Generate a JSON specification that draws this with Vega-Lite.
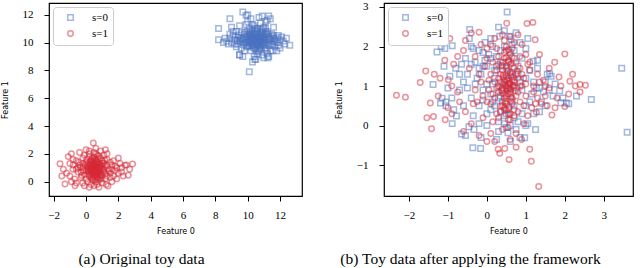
{
  "$schema": "https://vega.github.io/schema/vega-lite/v6.json",
  "autosize": {"type": "pad"},
  "padding": 0,
  "bounds": "flush",
  "spacing": 82,
  "background": "white",
  "config": {
    "view": {"stroke": "black", "strokeWidth": 1.2},
    "axis": {"domain": false, "grid": false, "tickColor": "black", "tickSize": 5, "tickWidth": 1, "labelFont": "Liberation Serif", "labelFontSize": 11, "labelColor": "black", "labelFlush": false, "labelOverlap": false, "titleFont": "DejaVu Sans", "titleFontSize": 8, "titleFontWeight": "normal", "titleColor": "black"},
    "axisX": {"labelPadding": 8, "titlePadding": 7},
    "axisY": {"labelPadding": 11, "titlePadding": 13},
    "legend": {"orient": "top-left", "offset": 4, "title": null, "strokeColor": "#cccccc", "strokeWidth": 1, "cornerRadius": 3, "fillColor": "white", "padding": 5, "labelFont": "Liberation Serif", "labelFontSize": 11, "labelColor": "black", "symbolSize": 30, "symbolStrokeWidth": 1.5, "symbolOpacity": 0.5, "rowPadding": 3, "symbolOffset": 7, "labelOffset": 16},
    "title": {"font": "Liberation Serif", "fontSize": 15.5, "fontWeight": "normal", "color": "black", "orient": "bottom", "anchor": "middle", "frame": "group", "offset": 17}
  },
  "resolve": {"scale": {"x": "independent", "y": "independent"}, "legend": {"color": "independent", "shape": "independent"}},
  "datasets": {
    "a": [
      {"s":0,"x":10.5,"y":10.1},{"s":0,"x":10.7,"y":10.3},{"s":0,"x":10.3,"y":9.9},{"s":0,"x":10.9,"y":10.0},{"s":0,"x":10.1,"y":10.2},{"s":0,"x":11.0,"y":10.4},{"s":0,"x":10.6,"y":9.7},{"s":0,"x":10.2,"y":10.5},{"s":0,"x":10.8,"y":9.8},{"s":0,"x":11.2,"y":10.2},
      {"s":0,"x":9.9,"y":10.0},{"s":0,"x":10.4,"y":10.6},{"s":0,"x":10.6,"y":10.8},{"s":0,"x":11.4,"y":10.1},{"s":0,"x":9.7,"y":10.3},{"s":0,"x":10.0,"y":9.7},{"s":0,"x":11.1,"y":9.6},{"s":0,"x":10.5,"y":9.5},{"s":0,"x":9.5,"y":10.1},{"s":0,"x":10.3,"y":10.9},
      {"s":0,"x":11.6,"y":10.3},{"s":0,"x":10.9,"y":10.7},{"s":0,"x":9.8,"y":10.6},{"s":0,"x":10.7,"y":9.4},{"s":0,"x":11.3,"y":9.8},{"s":0,"x":9.4,"y":9.9},{"s":0,"x":10.2,"y":9.4},{"s":0,"x":11.8,"y":10.0},{"s":0,"x":10.4,"y":11.2},{"s":0,"x":11.0,"y":11.1},
      {"s":0,"x":9.6,"y":10.7},{"s":0,"x":9.2,"y":10.2},{"s":0,"x":10.8,"y":11.4},{"s":0,"x":11.5,"y":10.6},{"s":0,"x":9.3,"y":9.7},{"s":0,"x":10.1,"y":11.0},{"s":0,"x":11.9,"y":10.5},{"s":0,"x":10.6,"y":9.2},{"s":0,"x":11.7,"y":9.7},{"s":0,"x":9.0,"y":10.0},
      {"s":0,"x":12.0,"y":10.2},{"s":0,"x":10.0,"y":11.5},{"s":0,"x":11.2,"y":11.6},{"s":0,"x":9.1,"y":10.5},{"s":0,"x":11.4,"y":9.4},{"s":0,"x":10.9,"y":9.1},{"s":0,"x":9.8,"y":9.4},{"s":0,"x":12.2,"y":10.1},{"s":0,"x":12.3,"y":9.9},{"s":0,"x":8.8,"y":9.9},
      {"s":0,"x":8.7,"y":10.1},{"s":0,"x":8.6,"y":10.3},{"s":0,"x":8.9,"y":10.6},{"s":0,"x":9.5,"y":11.2},{"s":0,"x":9.9,"y":11.3},{"s":0,"x":10.7,"y":11.8},{"s":0,"x":11.3,"y":11.9},{"s":0,"x":11.1,"y":11.5},{"s":0,"x":11.6,"y":11.1},{"s":0,"x":10.2,"y":11.7},
      {"s":0,"x":9.7,"y":12.2},{"s":0,"x":10.0,"y":12.0},{"s":0,"x":8.9,"y":11.7},{"s":0,"x":8.2,"y":11.0},{"s":0,"x":10.1,"y":7.9},{"s":0,"x":10.5,"y":8.8},{"s":0,"x":10.3,"y":8.6},{"s":0,"x":9.7,"y":9.0},{"s":0,"x":9.5,"y":9.1},{"s":0,"x":11.0,"y":8.9},
      {"s":0,"x":11.3,"y":9.0},{"s":0,"x":8.2,"y":10.2},{"s":0,"x":12.6,"y":9.8},{"s":0,"x":11.2,"y":9.2},{"s":0,"x":10.4,"y":9.0},{"s":0,"x":11.8,"y":9.4},{"s":0,"x":12.0,"y":9.6},{"s":0,"x":9.3,"y":10.8},{"s":0,"x":9.0,"y":11.1},{"s":0,"x":8.5,"y":10.0},
      {"s":0,"x":10.6,"y":10.2},{"s":0,"x":10.4,"y":10.3},{"s":0,"x":10.8,"y":10.1},{"s":0,"x":10.2,"y":10.0},{"s":0,"x":10.6,"y":10.0},{"s":0,"x":10.9,"y":10.4},{"s":0,"x":10.3,"y":10.2},{"s":0,"x":11.1,"y":10.0},{"s":0,"x":10.0,"y":10.3},{"s":0,"x":10.5,"y":10.4},
      {"s":0,"x":10.7,"y":9.9},{"s":0,"x":10.4,"y":9.8},{"s":0,"x":11.0,"y":9.9},{"s":0,"x":10.1,"y":9.8},{"s":0,"x":10.8,"y":10.5},{"s":0,"x":9.8,"y":10.2},{"s":0,"x":11.3,"y":10.4},{"s":0,"x":10.5,"y":10.7},{"s":0,"x":11.5,"y":9.9},{"s":0,"x":9.6,"y":9.6},
      {"s":0,"x":11.2,"y":10.8},{"s":0,"x":10.6,"y":11.0},{"s":0,"x":9.4,"y":10.4},{"s":0,"x":11.7,"y":10.2},{"s":0,"x":10.0,"y":10.8},{"s":0,"x":12.4,"y":10.3},{"s":0,"x":11.9,"y":9.8},{"s":0,"x":10.9,"y":11.9},{"s":0,"x":11.4,"y":11.7},{"s":0,"x":9.9,"y":11.95},
      {"s":0,"x":11.1,"y":11.0},{"s":0,"x":9.5,"y":9.12},{"s":0,"x":10.45,"y":8.77},{"s":0,"x":11.25,"y":8.9},{"s":0,"x":11.56,"y":9.4},
      {"s":0,"x":10.45,"y":10.15},{"s":0,"x":10.65,"y":10.05},{"s":0,"x":10.35,"y":10.35},{"s":0,"x":10.75,"y":10.25},{"s":0,"x":10.15,"y":9.95},{"s":0,"x":10.95,"y":10.15},{"s":0,"x":10.55,"y":9.85},{"s":0,"x":10.25,"y":10.65},{"s":0,"x":10.85,"y":9.65},{"s":0,"x":11.05,"y":10.25},
      {"s":0,"x":9.95,"y":10.45},{"s":0,"x":10.45,"y":10.85},{"s":0,"x":10.65,"y":10.55},{"s":0,"x":11.25,"y":9.95},{"s":0,"x":9.75,"y":9.85},{"s":0,"x":10.05,"y":10.05},{"s":0,"x":11.15,"y":10.55},{"s":0,"x":10.35,"y":9.65},{"s":0,"x":9.65,"y":10.05},{"s":0,"x":10.55,"y":10.95},
      {"s":0,"x":11.45,"y":10.45},{"s":0,"x":10.85,"y":10.85},{"s":0,"x":9.85,"y":10.75},{"s":0,"x":10.75,"y":9.55},{"s":0,"x":11.35,"y":10.25},{"s":0,"x":9.55,"y":10.35},{"s":0,"x":10.25,"y":9.75},{"s":0,"x":11.65,"y":10.05},{"s":0,"x":10.45,"y":11.05},{"s":0,"x":10.95,"y":10.95},
      {"s":0,"x":9.45,"y":10.55},{"s":0,"x":9.85,"y":9.95},{"s":0,"x":10.15,"y":10.75},{"s":0,"x":11.55,"y":9.85},{"s":0,"x":10.65,"y":9.35},{"s":0,"x":11.05,"y":9.75},{"s":0,"x":10.35,"y":10.05},{"s":0,"x":10.55,"y":10.25},{"s":0,"x":10.75,"y":10.65},{"s":0,"x":10.95,"y":9.85},
      {"s":0,"x":10.15,"y":10.45},{"s":0,"x":11.25,"y":10.65},{"s":0,"x":9.95,"y":9.75},{"s":0,"x":10.45,"y":9.55},{"s":0,"x":10.85,"y":10.35},{"s":0,"x":10.25,"y":10.25},{"s":0,"x":11.15,"y":9.45},{"s":0,"x":9.35,"y":10.15},{"s":0,"x":11.85,"y":10.35},{"s":0,"x":10.05,"y":10.55},
      {"s":0,"x":10.6,"y":10.4},{"s":0,"x":10.4,"y":10.0},{"s":0,"x":10.8,"y":10.3},{"s":0,"x":10.2,"y":10.3},{"s":0,"x":11.0,"y":10.6},{"s":0,"x":10.7,"y":10.1},{"s":0,"x":10.3,"y":10.4},{"s":0,"x":10.9,"y":10.2},{"s":0,"x":10.5,"y":10.2},{"s":0,"x":10.6,"y":9.9},
      {"s":0,"x":9.6,"y":10.2},{"s":0,"x":11.4,"y":10.3},{"s":0,"x":10.1,"y":10.6},{"s":0,"x":11.1,"y":10.8},{"s":0,"x":10.3,"y":11.3},{"s":0,"x":9.2,"y":9.9},{"s":0,"x":11.6,"y":10.5},{"s":0,"x":12.1,"y":10.4},{"s":0,"x":8.9,"y":10.3},{"s":0,"x":9.1,"y":10.8},
      {"s":1,"x":0.5,"y":0.9},{"s":1,"x":0.3,"y":1.0},{"s":1,"x":0.7,"y":0.8},{"s":1,"x":0.4,"y":1.2},{"s":1,"x":0.6,"y":0.6},{"s":1,"x":0.2,"y":0.7},{"s":1,"x":0.9,"y":1.0},{"s":1,"x":0.1,"y":1.1},{"s":1,"x":0.8,"y":1.3},{"s":1,"x":0.5,"y":0.4},
      {"s":1,"x":0.0,"y":0.8},{"s":1,"x":1.1,"y":0.7},{"s":1,"x":0.3,"y":1.5},{"s":1,"x":0.6,"y":1.6},{"s":1,"x":0.9,"y":0.5},{"s":1,"x":-0.2,"y":1.0},{"s":1,"x":1.2,"y":1.1},{"s":1,"x":0.4,"y":0.2},{"s":1,"x":0.7,"y":1.9},{"s":1,"x":-0.1,"y":0.5},
      {"s":1,"x":1.4,"y":0.9},{"s":1,"x":0.2,"y":1.8},{"s":1,"x":1.0,"y":1.5},{"s":1,"x":-0.4,"y":1.2},{"s":1,"x":0.8,"y":0.1},{"s":1,"x":1.3,"y":0.4},{"s":1,"x":-0.3,"y":0.3},{"s":1,"x":1.6,"y":1.2},{"s":1,"x":0.5,"y":2.1},{"s":1,"x":-0.5,"y":0.7},
      {"s":1,"x":1.5,"y":0.6},{"s":1,"x":0.1,"y":0.0},{"s":1,"x":0.9,"y":2.2},{"s":1,"x":-0.6,"y":1.5},{"s":1,"x":1.8,"y":0.8},{"s":1,"x":-0.8,"y":0.9},{"s":1,"x":0.6,"y":2.4},{"s":1,"x":1.1,"y":1.9},{"s":1,"x":-0.2,"y":1.7},{"s":1,"x":2.0,"y":0.6},
      {"s":1,"x":-1.0,"y":1.3},{"s":1,"x":0.3,"y":-0.2},{"s":1,"x":1.0,"y":-0.1},{"s":1,"x":-0.7,"y":0.2},{"s":1,"x":1.7,"y":1.5},{"s":1,"x":0.45,"y":2.78},{"s":1,"x":2.2,"y":1.0},{"s":1,"x":-1.3,"y":-0.17},{"s":1,"x":-0.68,"y":-0.29},{"s":1,"x":1.36,"y":-0.31},
      {"s":1,"x":2.88,"y":1.27},{"s":1,"x":-1.61,"y":1.29},{"s":1,"x":2.61,"y":0.46},{"s":1,"x":2.41,"y":1.18},{"s":1,"x":2.0,"y":1.7},{"s":1,"x":-1.2,"y":0.6},{"s":1,"x":-0.9,"y":2.0},{"s":1,"x":0.0,"y":2.3},{"s":1,"x":0.8,"y":-0.4},{"s":1,"x":0.2,"y":-0.4},
      {"s":1,"x":1.2,"y":2.3},{"s":1,"x":-0.4,"y":2.1},{"s":1,"x":-1.1,"y":1.8},{"s":1,"x":1.9,"y":0.2},{"s":1,"x":-1.4,"y":0.9},{"s":1,"x":1.6,"y":0.0},{"s":1,"x":2.3,"y":0.4},{"s":1,"x":-0.9,"y":0.0},{"s":1,"x":0.6,"y":0.0},{"s":1,"x":1.3,"y":1.6},
      {"s":1,"x":0.0,"y":1.4},{"s":1,"x":0.4,"y":0.6},{"s":1,"x":0.7,"y":1.1},{"s":1,"x":0.2,"y":0.4},{"s":1,"x":1.0,"y":0.9},{"s":1,"x":0.5,"y":1.3},{"s":1,"x":0.3,"y":0.8},{"s":1,"x":0.8,"y":0.7},{"s":1,"x":0.6,"y":1.0},{"s":1,"x":0.1,"y":1.3},
      {"s":1,"x":1.1,"y":1.3},{"s":1,"x":0.4,"y":1.7},{"s":1,"x":-0.3,"y":0.7},{"s":1,"x":0.9,"y":0.3},{"s":1,"x":1.5,"y":1.4},{"s":1,"x":-0.5,"y":1.0},{"s":1,"x":0.7,"y":0.3},{"s":1,"x":1.2,"y":0.2},{"s":1,"x":-0.1,"y":1.9},{"s":1,"x":2.1,"y":1.3},
      {"s":1,"x":1.8,"y":1.1},{"s":1,"x":-0.8,"y":1.6},{"s":1,"x":0.2,"y":2.0},{"s":1,"x":0.9,"y":1.7},{"s":1,"x":-1.5,"y":0.4},{"s":1,"x":1.7,"y":0.4},{"s":1,"x":2.5,"y":1.2},{"s":1,"x":-0.2,"y":-0.1},{"s":1,"x":0.5,"y":-0.3},{"s":1,"x":1.3,"y":2.0},
      {"s":1,"x":-0.6,"y":-0.1},{"s":1,"x":2.7,"y":0.9},{"s":1,"x":0.35,"y":0.95},{"s":1,"x":0.65,"y":1.25},{"s":1,"x":0.55,"y":0.7},{"s":1,"x":0.15,"y":0.9},{"s":1,"x":0.85,"y":1.15},{"s":1,"x":0.45,"y":1.45},{"s":1,"x":0.75,"y":0.5},{"s":1,"x":0.25,"y":1.25},
      {"s":1,"x":0.45,"y":0.85},{"s":1,"x":0.55,"y":0.95},{"s":1,"x":0.35,"y":1.05},{"s":1,"x":0.65,"y":0.75},{"s":1,"x":0.25,"y":0.85},{"s":1,"x":0.75,"y":1.05},{"s":1,"x":0.5,"y":1.1},{"s":1,"x":0.4,"y":0.7},{"s":1,"x":0.6,"y":1.3},{"s":1,"x":0.3,"y":0.5},
      {"s":1,"x":0.8,"y":0.95},{"s":1,"x":0.2,"y":1.15},{"s":1,"x":0.7,"y":0.6},{"s":1,"x":0.9,"y":1.2},{"s":1,"x":0.1,"y":0.95},{"s":1,"x":1.0,"y":1.1},{"s":1,"x":0.45,"y":1.35},{"s":1,"x":0.55,"y":0.5},{"s":1,"x":0.35,"y":1.6},{"s":1,"x":0.65,"y":1.45},
      {"s":1,"x":-0.05,"y":1.2},{"s":1,"x":1.1,"y":0.85},{"s":1,"x":0.15,"y":0.55},{"s":1,"x":0.85,"y":0.4},{"s":1,"x":0.5,"y":1.75},{"s":1,"x":0.3,"y":0.3},{"s":1,"x":1.2,"y":0.6},{"s":1,"x":-0.15,"y":0.8},{"s":1,"x":0.75,"y":1.65},{"s":1,"x":0.05,"y":1.6},
      {"s":1,"x":1.3,"y":1.2},{"s":1,"x":-0.25,"y":0.45},{"s":1,"x":0.95,"y":0.2},{"s":1,"x":0.4,"y":0.1},{"s":1,"x":1.4,"y":0.75},{"s":1,"x":-0.35,"y":1.05},{"s":1,"x":0.6,"y":2.0},{"s":1,"x":0.2,"y":2.2},{"s":1,"x":1.15,"y":1.55},{"s":1,"x":-0.45,"y":1.4},
      {"s":1,"x":1.6,"y":0.9},{"s":1,"x":0.8,"y":1.85},{"s":1,"x":-0.6,"y":0.9},{"s":1,"x":0.0,"y":0.2},{"s":1,"x":1.5,"y":0.3},{"s":1,"x":0.7,"y":-0.2},{"s":1,"x":-0.1,"y":-0.3},{"s":1,"x":1.25,"y":-0.2},{"s":1,"x":0.55,"y":0.15},{"s":1,"x":0.95,"y":0.65},
      {"s":1,"x":0.45,"y":0.3},{"s":1,"x":0.25,"y":1.45},{"s":1,"x":0.65,"y":1.1},{"s":1,"x":0.85,"y":0.8},{"s":1,"x":0.15,"y":0.75},{"s":1,"x":1.05,"y":1.35},{"s":1,"x":0.35,"y":0.6},{"s":1,"x":0.55,"y":1.55},{"s":1,"x":0.75,"y":0.25},{"s":1,"x":0.5,"y":0.6},
      {"s":1,"x":0.4,"y":1.0},{"s":1,"x":0.6,"y":0.85},{"s":1,"x":0.3,"y":1.2},{"s":1,"x":0.7,"y":1.4},{"s":1,"x":1.0,"y":0.45},{"s":1,"x":-0.2,"y":1.3},{"s":1,"x":1.9,"y":1.0},{"s":1,"x":-1.0,"y":0.4},{"s":1,"x":2.2,"y":0.7},{"s":1,"x":-0.8,"y":1.2}
    ],
    "b": [
      {"s":0,"x":0.52,"y":2.87},{"s":0,"x":0.30,"y":2.49},{"s":0,"x":-0.44,"y":2.43},{"s":0,"x":-1.28,"y":1.86},{"s":0,"x":-1.17,"y":2.0},{"s":0,"x":-1.08,"y":1.95},{"s":0,"x":-0.89,"y":2.02},{"s":0,"x":3.46,"y":1.45},{"s":0,"x":3.6,"y":-0.17},{"s":0,"x":2.68,"y":0.66},
      {"s":0,"x":1.61,"y":1.31},{"s":0,"x":2.04,"y":0.57},{"s":0,"x":0.97,"y":-0.31},{"s":0,"x":0.54,"y":-0.18},{"s":0,"x":-0.36,"y":-0.56},{"s":0,"x":-0.16,"y":-0.58},{"s":0,"x":-0.65,"y":-0.21},{"s":0,"x":-0.46,"y":-0.03},{"s":0,"x":-0.33,"y":-0.1},{"s":0,"x":-0.89,"y":0.05},
      {"s":0,"x":-0.78,"y":0.24},{"s":0,"x":-1.38,"y":1.04},{"s":0,"x":-1.19,"y":0.57},{"s":0,"x":-1.15,"y":0.69},{"s":0,"x":-0.45,"y":2.2},{"s":0,"x":0.33,"y":2.26},{"s":0,"x":0.58,"y":2.26},{"s":0,"x":0.62,"y":2.17},{"s":0,"x":1.19,"y":1.63},{"s":0,"x":1.27,"y":0.95},
      {"s":0,"x":1.87,"y":0.88},{"s":0,"x":1.9,"y":0.58},{"s":0,"x":-0.2,"y":1.9},{"s":0,"x":-0.1,"y":1.85},{"s":0,"x":0.0,"y":1.5},{"s":0,"x":-0.1,"y":1.5},{"s":0,"x":-0.3,"y":1.6},{"s":0,"x":-0.5,"y":1.3},{"s":0,"x":-0.6,"y":1.1},{"s":0,"x":-0.7,"y":0.9},
      {"s":0,"x":-0.8,"y":1.45},{"s":0,"x":-0.55,"y":1.7},{"s":0,"x":-0.25,"y":1.2},{"s":0,"x":0.1,"y":1.7},{"s":0,"x":0.2,"y":1.4},{"s":0,"x":0.35,"y":1.9},{"s":0,"x":0.45,"y":2.0},{"s":0,"x":0.7,"y":1.9},{"s":0,"x":0.8,"y":1.5},{"s":0,"x":0.9,"y":1.7},
      {"s":0,"x":1.0,"y":1.2},{"s":0,"x":1.1,"y":1.4},{"s":0,"x":1.3,"y":1.45},{"s":0,"x":1.5,"y":1.1},{"s":0,"x":1.6,"y":0.9},{"s":0,"x":1.7,"y":0.75},{"s":0,"x":1.4,"y":0.6},{"s":0,"x":1.2,"y":0.3},{"s":0,"x":1.0,"y":0.5},{"s":0,"x":0.8,"y":0.1},
      {"s":0,"x":0.6,"y":0.0},{"s":0,"x":0.5,"y":0.3},{"s":0,"x":0.3,"y":0.1},{"s":0,"x":0.2,"y":0.5},{"s":0,"x":0.1,"y":0.8},{"s":0,"x":0.0,"y":0.3},{"s":0,"x":-0.2,"y":0.5},{"s":0,"x":-0.4,"y":0.7},{"s":0,"x":-0.6,"y":0.5},{"s":0,"x":-0.9,"y":0.7},
      {"s":0,"x":-1.0,"y":0.95},{"s":0,"x":-1.05,"y":0.5},{"s":0,"x":0.4,"y":0.6},{"s":0,"x":0.6,"y":0.8},{"s":0,"x":0.3,"y":1.0},{"s":0,"x":0.5,"y":1.2},{"s":0,"x":0.7,"y":0.5},{"s":0,"x":0.9,"y":0.9},{"s":0,"x":0.2,"y":1.2},{"s":0,"x":0.4,"y":1.5},
      {"s":0,"x":0.65,"y":1.35},{"s":0,"x":-0.1,"y":0.9},{"s":0,"x":0.1,"y":0.4},{"s":0,"x":0.3,"y":-0.15},{"s":0,"x":0.75,"y":-0.1},{"s":0,"x":1.05,"y":0.05},{"s":0,"x":0.85,"y":-0.3},{"s":0,"x":1.35,"y":0.35},{"s":0,"x":-0.35,"y":0.25},{"s":0,"x":-0.55,"y":-0.25},
      {"s":0,"x":1.55,"y":1.3},{"s":0,"x":1.65,"y":1.25},{"s":0,"x":1.3,"y":1.65},{"s":0,"x":0.15,"y":2.0},{"s":0,"x":-0.05,"y":2.1},{"s":0,"x":0.25,"y":1.75},{"s":0,"x":-0.7,"y":1.3},{"s":0,"x":-1.05,"y":0.6},{"s":0,"x":-0.85,"y":0.4},{"s":0,"x":2.1,"y":0.55},
      {"s":0,"x":1.95,"y":0.7},{"s":0,"x":1.0,"y":0.0},{"s":0,"x":0.25,"y":-0.35},{"s":0,"x":0.45,"y":0.05},{"s":0,"x":-0.2,"y":0.05},{"s":0,"x":0.0,"y":1.05},{"s":0,"x":0.85,"y":1.1},{"s":0,"x":1.15,"y":0.8},{"s":0,"x":1.45,"y":0.85},{"s":0,"x":-0.35,"y":1.95},
      {"s":0,"x":-0.15,"y":1.3},{"s":0,"x":0.55,"y":1.6},{"s":0,"x":0.35,"y":0.75},{"s":0,"x":0.55,"y":0.95},{"s":0,"x":0.7,"y":1.15},
      {"s":0,"x":0.55,"y":1.0},{"s":0,"x":0.45,"y":1.1},{"s":0,"x":0.6,"y":1.3},{"s":0,"x":0.4,"y":0.9},{"s":0,"x":0.65,"y":0.6},{"s":0,"x":0.5,"y":1.45},{"s":0,"x":0.35,"y":1.6},{"s":0,"x":0.7,"y":1.7},{"s":0,"x":0.55,"y":0.4},{"s":0,"x":0.3,"y":0.7},
      {"s":0,"x":0.75,"y":0.95},{"s":0,"x":0.25,"y":1.5},{"s":0,"x":0.6,"y":1.85},{"s":0,"x":0.45,"y":0.25},{"s":0,"x":0.8,"y":1.3},{"s":0,"x":0.15,"y":1.05},{"s":0,"x":-0.05,"y":1.65},{"s":0,"x":-0.2,"y":1.45},{"s":0,"x":-0.4,"y":1.55},{"s":0,"x":0.05,"y":1.8},
      {"s":0,"x":0.65,"y":2.05},{"s":0,"x":0.85,"y":2.1},{"s":0,"x":1.0,"y":1.95},{"s":0,"x":1.2,"y":1.1},{"s":0,"x":1.35,"y":0.95},{"s":0,"x":1.1,"y":0.6},{"s":0,"x":0.9,"y":0.3},{"s":0,"x":0.7,"y":0.2},{"s":0,"x":0.5,"y":-0.05},{"s":0,"x":0.35,"y":0.35},
      {"s":0,"x":0.15,"y":0.6},{"s":0,"x":-0.1,"y":0.65},{"s":0,"x":-0.3,"y":1.05},{"s":0,"x":-0.5,"y":0.95},{"s":0,"x":-0.65,"y":1.55},{"s":0,"x":-0.4,"y":2.0},{"s":0,"x":0.1,"y":2.2},{"s":0,"x":0.45,"y":2.4},{"s":0,"x":0.75,"y":2.35},{"s":0,"x":1.05,"y":2.2},
      {"s":0,"x":0.0,"y":0.0},{"s":0,"x":-0.15,"y":-0.3},{"s":0,"x":0.6,"y":-0.4},{"s":0,"x":1.25,"y":-0.1},{"s":0,"x":1.5,"y":0.5},{"s":0,"x":1.75,"y":1.05},{"s":0,"x":2.3,"y":0.75},{"s":0,"x":-0.95,"y":1.25},{"s":0,"x":-1.1,"y":1.5},
      {"s":1,"x":-2.32,"y":0.77},{"s":1,"x":-2.09,"y":0.72},{"s":1,"x":-1.71,"y":1.09},{"s":1,"x":-1.57,"y":1.38},{"s":1,"x":-1.54,"y":0.2},{"s":1,"x":-1.42,"y":-0.08},{"s":1,"x":-1.35,"y":1.3},{"s":1,"x":0.46,"y":-0.58},{"s":1,"x":0.33,"y":-0.7},{"s":1,"x":0.57,"y":-0.86},
      {"s":1,"x":1.14,"y":-0.9},{"s":1,"x":1.33,"y":-1.54},{"s":1,"x":2.0,"y":1.81},{"s":1,"x":1.74,"y":1.6},{"s":1,"x":1.03,"y":2.58},{"s":1,"x":1.18,"y":2.61},{"s":1,"x":0.51,"y":2.59},{"s":1,"x":1.24,"y":2.17},{"s":1,"x":1.85,"y":1.23},{"s":1,"x":2.13,"y":1.12},
      {"s":1,"x":2.27,"y":1.0},{"s":1,"x":2.39,"y":1.04},{"s":1,"x":2.53,"y":1.02},{"s":1,"x":2.39,"y":0.85},{"s":1,"x":2.0,"y":0.48},{"s":1,"x":1.67,"y":0.27},{"s":1,"x":-0.2,"y":2.36},{"s":1,"x":-0.4,"y":2.34},{"s":1,"x":-0.55,"y":2.15},{"s":1,"x":-0.95,"y":2.2},
      {"s":1,"x":-1.08,"y":1.65},{"s":1,"x":-0.99,"y":1.16},{"s":1,"x":-1.45,"y":0.57},{"s":1,"x":-1.37,"y":0.23},{"s":1,"x":-1.07,"y":0.15},{"s":1,"x":0.2,"y":-0.4},{"s":1,"x":0.29,"y":-0.6},{"s":1,"x":0.89,"y":-0.35},{"s":1,"x":1.27,"y":0.34},{"s":1,"x":-1.2,"y":1.2},
      {"s":1,"x":-1.25,"y":0.75},{"s":1,"x":-0.9,"y":1.0},{"s":1,"x":-0.85,"y":1.55},{"s":1,"x":-0.75,"y":1.75},{"s":1,"x":-0.6,"y":1.9},{"s":1,"x":-0.3,"y":1.75},{"s":1,"x":-0.45,"y":1.45},{"s":1,"x":-0.7,"y":0.6},{"s":1,"x":-0.55,"y":0.35},{"s":1,"x":-0.9,"y":0.3},
      {"s":1,"x":-0.4,"y":0.05},{"s":1,"x":-0.6,"y":-0.15},{"s":1,"x":-0.2,"y":-0.25},{"s":1,"x":0.0,"y":-0.4},{"s":1,"x":0.1,"y":-0.2},{"s":1,"x":-0.1,"y":0.2},{"s":1,"x":-0.3,"y":0.9},{"s":1,"x":-0.15,"y":1.1},{"s":1,"x":0.0,"y":0.6},{"s":1,"x":0.1,"y":1.3},
      {"s":1,"x":0.15,"y":1.6},{"s":1,"x":0.0,"y":1.95},{"s":1,"x":0.2,"y":2.2},{"s":1,"x":0.4,"y":2.3},{"s":1,"x":0.7,"y":2.1},{"s":1,"x":0.9,"y":2.05},{"s":1,"x":1.0,"y":1.8},{"s":1,"x":1.1,"y":1.6},{"s":1,"x":0.85,"y":1.45},{"s":1,"x":1.3,"y":1.3},
      {"s":1,"x":1.45,"y":1.15},{"s":1,"x":1.6,"y":0.95},{"s":1,"x":1.5,"y":0.75},{"s":1,"x":1.8,"y":0.7},{"s":1,"x":1.75,"y":0.45},{"s":1,"x":1.4,"y":0.55},{"s":1,"x":1.15,"y":0.45},{"s":1,"x":1.05,"y":0.25},{"s":1,"x":0.95,"y":0.05},{"s":1,"x":0.75,"y":-0.2},
      {"s":1,"x":0.6,"y":-0.35},{"s":1,"x":0.4,"y":-0.1},{"s":1,"x":0.3,"y":0.2},{"s":1,"x":0.35,"y":0.5},{"s":1,"x":0.45,"y":0.8},{"s":1,"x":0.5,"y":1.0},{"s":1,"x":0.55,"y":1.2},{"s":1,"x":0.6,"y":0.9},{"s":1,"x":0.65,"y":0.7},{"s":1,"x":0.5,"y":0.55},
      {"s":1,"x":0.55,"y":1.4},{"s":1,"x":0.6,"y":1.55},{"s":1,"x":0.45,"y":1.7},{"s":1,"x":0.65,"y":1.75},{"s":1,"x":0.5,"y":1.9},{"s":1,"x":0.35,"y":1.3},{"s":1,"x":0.4,"y":1.05},{"s":1,"x":0.7,"y":1.1},{"s":1,"x":0.75,"y":1.3},{"s":1,"x":0.8,"y":0.85},
      {"s":1,"x":0.25,"y":0.95},{"s":1,"x":0.2,"y":0.7},{"s":1,"x":0.3,"y":1.55},{"s":1,"x":0.55,"y":0.3},{"s":1,"x":0.7,"y":0.4},{"s":1,"x":0.85,"y":0.6},{"s":1,"x":0.9,"y":1.0},{"s":1,"x":1.0,"y":0.75},{"s":1,"x":0.95,"y":1.2},{"s":1,"x":0.6,"y":1.05},
      {"s":1,"x":0.5,"y":0.75},{"s":1,"x":0.45,"y":0.4},{"s":1,"x":0.6,"y":0.15},{"s":1,"x":0.15,"y":0.1},{"s":1,"x":0.05,"y":0.9},{"s":1,"x":-0.05,"y":1.5},{"s":1,"x":1.2,"y":1.0},{"s":1,"x":1.3,"y":0.7},{"s":1,"x":1.55,"y":0.5},{"s":1,"x":1.9,"y":1.0},
      {"s":1,"x":2.1,"y":0.8},{"s":1,"x":2.2,"y":1.3},{"s":1,"x":1.6,"y":1.45},{"s":1,"x":1.35,"y":1.8},{"s":1,"x":0.8,"y":2.3},{"s":1,"x":0.25,"y":1.95},{"s":1,"x":-0.15,"y":2.05},{"s":1,"x":1.1,"y":-0.6},{"s":1,"x":0.75,"y":-0.55},{"s":1,"x":-0.35,"y":0.55},
      {"s":1,"x":-0.75,"y":0.85},{"s":1,"x":-1.0,"y":0.45},{"s":1,"x":0.58,"y":0.95},{"s":1,"x":0.52,"y":1.15},{"s":1,"x":0.62,"y":1.25},{"s":1,"x":0.48,"y":0.62},{"s":1,"x":0.42,"y":1.22},{"s":1,"x":0.68,"y":0.98},{"s":1,"x":0.57,"y":1.62},{"s":1,"x":0.38,"y":0.88},
      {"s":1,"x":0.5,"y":0.95},{"s":1,"x":0.55,"y":1.05},{"s":1,"x":0.45,"y":1.15},{"s":1,"x":0.6,"y":0.85},{"s":1,"x":0.4,"y":0.95},{"s":1,"x":0.65,"y":1.15},{"s":1,"x":0.5,"y":1.25},{"s":1,"x":0.55,"y":0.8},{"s":1,"x":0.6,"y":1.35},{"s":1,"x":0.45,"y":0.7},
      {"s":1,"x":0.7,"y":1.0},{"s":1,"x":0.35,"y":1.1},{"s":1,"x":0.65,"y":0.55},{"s":1,"x":0.5,"y":1.5},{"s":1,"x":0.55,"y":1.65},{"s":1,"x":0.4,"y":1.4},{"s":1,"x":0.7,"y":1.45},{"s":1,"x":0.6,"y":1.8},{"s":1,"x":0.45,"y":1.85},{"s":1,"x":0.5,"y":0.4},
      {"s":1,"x":0.6,"y":0.3},{"s":1,"x":0.4,"y":0.5},{"s":1,"x":0.3,"y":0.85},{"s":1,"x":0.75,"y":0.75},{"s":1,"x":0.8,"y":1.2},{"s":1,"x":0.3,"y":1.2},{"s":1,"x":0.25,"y":1.4},{"s":1,"x":0.85,"y":1.0},{"s":1,"x":0.35,"y":0.35},{"s":1,"x":0.7,"y":0.25},
      {"s":1,"x":0.55,"y":0.15},{"s":1,"x":0.5,"y":2.0},{"s":1,"x":0.65,"y":1.95},{"s":1,"x":0.4,"y":1.6},{"s":1,"x":0.75,"y":1.6},{"s":1,"x":0.2,"y":1.1},{"s":1,"x":0.9,"y":1.3},{"s":1,"x":0.15,"y":0.8},{"s":1,"x":1.0,"y":1.05},{"s":1,"x":0.1,"y":0.55},
      {"s":1,"x":0.95,"y":0.5},{"s":1,"x":0.25,"y":0.3},{"s":1,"x":0.8,"y":0.35},{"s":1,"x":0.55,"y":-0.05},{"s":1,"x":0.45,"y":2.15},{"s":1,"x":0.6,"y":2.25},{"s":1,"x":1.1,"y":1.4},{"s":1,"x":1.2,"y":0.85},{"s":1,"x":0.05,"y":1.15},{"s":1,"x":-0.1,"y":0.75},
      {"s":1,"x":1.35,"y":1.1},{"s":1,"x":-0.2,"y":1.3},{"s":1,"x":1.25,"y":0.55},{"s":1,"x":0.3,"y":1.75},{"s":1,"x":0.85,"y":1.75},{"s":1,"x":1.05,"y":1.55},{"s":1,"x":0.0,"y":1.7},{"s":1,"x":0.1,"y":2.05},{"s":1,"x":-0.25,"y":0.6},{"s":1,"x":1.5,"y":1.0},
      {"s":1,"x":0.58,"y":1.08},{"s":1,"x":0.48,"y":1.02},{"s":1,"x":0.52,"y":0.88},{"s":1,"x":0.62,"y":0.72},{"s":1,"x":0.42,"y":1.28},{"s":1,"x":0.68,"y":1.22},{"s":1,"x":0.53,"y":1.38},{"s":1,"x":0.47,"y":0.58},{"s":1,"x":0.57,"y":0.47},{"s":1,"x":0.63,"y":1.58},
      {"s":1,"x":0.38,"y":1.52},{"s":1,"x":0.72,"y":0.88},{"s":1,"x":0.33,"y":0.98},{"s":1,"x":0.78,"y":1.38},{"s":1,"x":0.5,"y":1.72},{"s":1,"x":0.55,"y":1.92},{"s":1,"x":0.45,"y":0.45},{"s":1,"x":0.62,"y":0.62},{"s":1,"x":0.4,"y":0.82},{"s":1,"x":0.66,"y":1.02}
    ]
  },
  "hconcat": [
    {
      "width": 253,
      "height": 193,
      "data": {"name": "a"},
      "title": {"text": "(a) Original toy data", "dx": -34},
      "mark": {"type": "point", "filled": false, "strokeWidth": 1.5, "opacity": 0.5, "size": 30},
      "encoding": {
        "x": {"field": "x", "type": "quantitative", "title": "Feature 0", "scale": {"domain": [-2.29, 13.36], "nice": false, "zero": false}, "axis": {"values": [-2, 0, 2, 4, 6, 8, 10, 12]}},
        "y": {"field": "y", "type": "quantitative", "title": "Feature 1", "scale": {"domain": [-1.03, 12.84], "nice": false, "zero": false}, "axis": {"values": [0, 2, 4, 6, 8, 10, 12]}},
        "color": {"field": "s", "type": "nominal", "scale": {"domain": [0, 1], "range": ["#4a72c0", "#d62836"]}, "legend": {"labelExpr": "'s=' + datum.label"}},
        "shape": {"field": "s", "type": "nominal", "scale": {"domain": [0, 1], "range": ["square", "circle"]}, "legend": {"labelExpr": "'s=' + datum.label"}}
      }
    },
    {
      "width": 249,
      "height": 193,
      "data": {"name": "b"},
      "title": {"text": "(b) Toy data after applying the framework", "dx": -38},
      "mark": {"type": "point", "filled": false, "strokeWidth": 1.5, "opacity": 0.5, "size": 30},
      "encoding": {
        "x": {"field": "x", "type": "quantitative", "title": "Feature 0", "scale": {"domain": [-2.64, 3.75], "nice": false, "zero": false}, "axis": {"values": [-2, -1, 0, 1, 2, 3]}},
        "y": {"field": "y", "type": "quantitative", "title": "Feature 1", "scale": {"domain": [-1.78, 3.1], "nice": false, "zero": false}, "axis": {"values": [-1, 0, 1, 2, 3]}},
        "color": {"field": "s", "type": "nominal", "scale": {"domain": [0, 1], "range": ["#4a72c0", "#d62836"]}, "legend": {"labelExpr": "'s=' + datum.label"}},
        "shape": {"field": "s", "type": "nominal", "scale": {"domain": [0, 1], "range": ["square", "circle"]}, "legend": {"labelExpr": "'s=' + datum.label"}}
      }
    }
  ]
}
